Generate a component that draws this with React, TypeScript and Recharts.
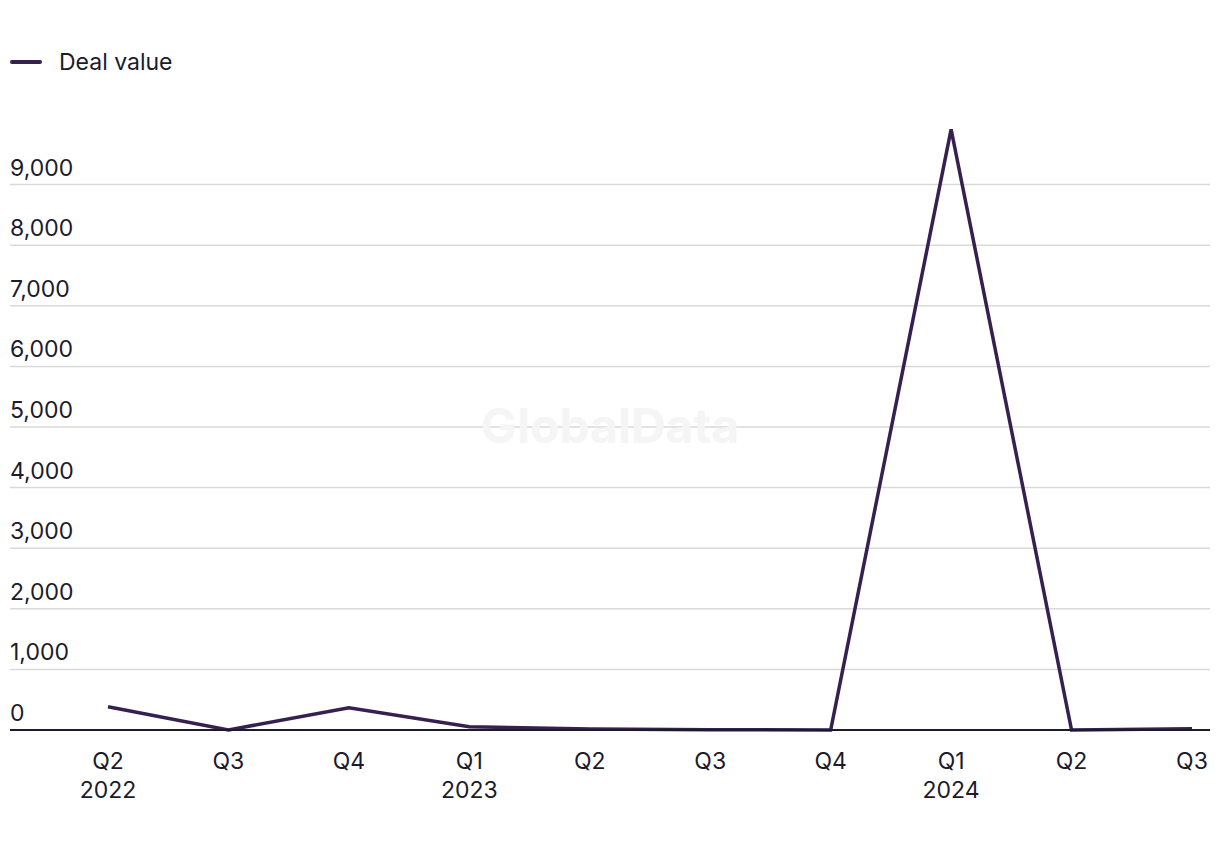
import React from 'react';
import { LineChart, Line, XAxis, YAxis, CartesianGrid } from 'recharts';

const quarters = ['Q2', 'Q3', 'Q4', 'Q1', 'Q2', 'Q3', 'Q4', 'Q1', 'Q2', 'Q3'];
const years = ['2022', '', '', '2023', '', '', '', '2024', '', ''];
const dealValue = [384, 0, 368, 55, 15, 5, 0, 9912, 0, 20];
const yTicks = [0, 1000, 2000, 3000, 4000, 5000, 6000, 7000, 8000, 9000];

const data = quarters.map((q, i) => ({
  key: `${q}-${i}`,
  quarter: q,
  year: years[i],
  value: dealValue[i],
}));

const FONT = 'Inter, "Noto Sans", sans-serif';
const TEXT = '#1b1b2b';
const LINE = '#35204f';

const YTick = (props: any) => {
  const { y, payload } = props;
  return (
    <text x={10} y={y - 9} textAnchor="start" fill={TEXT} fontSize={23} fontFamily={FONT}>
      {Number(payload.value).toLocaleString('en-US')}
    </text>
  );
};

const XTick = (props: any) => {
  const { x, y, index } = props;
  const d = data[index];
  return (
    <g>
      <text x={x} y={y + 31} textAnchor="middle" fill={TEXT} fontSize={23} fontFamily={FONT}>
        {d.quarter}
      </text>
      {d.year && (
        <text x={x} y={y + 60} textAnchor="middle" fill={TEXT} fontSize={23} fontFamily={FONT}>
          {d.year}
        </text>
      )}
    </g>
  );
};

export default function App() {
  return (
    <div style={{ position: 'absolute', left: 0, top: 0, width: 1220, height: 850, background: '#fff' }}>
      <LineChart width={1220} height={850} data={data} margin={{ top: 124, right: 10, left: 9, bottom: 40 }}>
        <text x={610} y={443} textAnchor="middle" fill="#f5f5f5" fontSize={48} fontWeight={700} fontFamily={FONT}>
          GlobalData
        </text>
        <g>
          <line x1={12} y1={62} x2={40} y2={62} stroke={LINE} strokeWidth={4} strokeLinecap="round" />
          <text x={59} y={70} fill={TEXT} fontSize={23} fontFamily={FONT}>Deal value</text>
        </g>
        <CartesianGrid vertical={false} horizontalValues={yTicks} stroke="#d9d9d9" strokeWidth={1.5} />
        <XAxis
          dataKey="key"
          interval={0}
          height={80}
          padding={{ left: 98, right: 18 }}
          tickLine={false}
          axisLine={{ stroke: TEXT, strokeWidth: 2 }}
          tick={<XTick />}
        />
        <YAxis
          width={1}
          type="number"
          domain={[0, 10000]}
          ticks={yTicks}
          interval={0}
          axisLine={false}
          tickLine={false}
          tick={<YTick />}
        />
        <Line
          type="linear"
          dataKey="value"
          stroke={LINE}
          strokeWidth={3.5}
          dot={false}
          activeDot={false}
          isAnimationActive={false}
        />
      </LineChart>
    </div>
  );
}
